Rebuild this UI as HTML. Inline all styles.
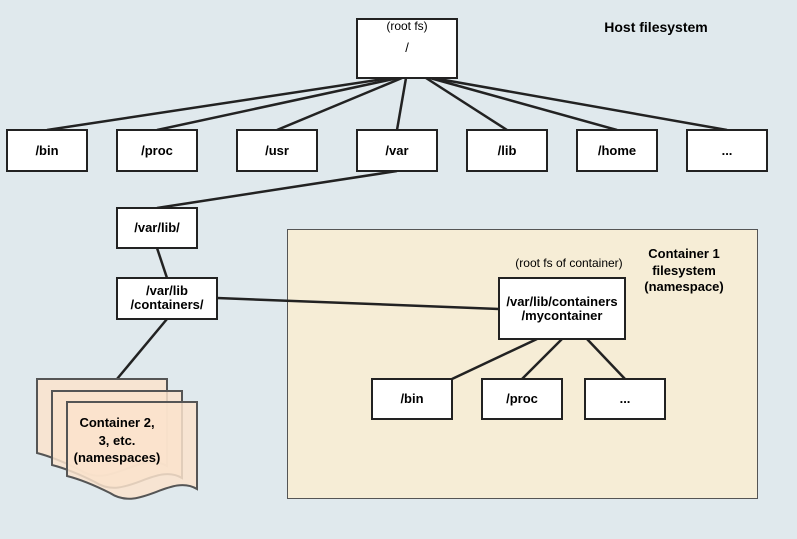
<!DOCTYPE html>
<html><head><style>body{margin:0;background:#e0e9ed}svg{display:block}text{font-family:"Liberation Sans",sans-serif;font-size:13px;font-weight:bold;text-anchor:middle}</style></head><body>
<svg width="797" height="539" viewBox="0 0 797 539">
<rect width="797" height="539" fill="#e0e9ed"/>
<rect x="287.5" y="229.5" width="470" height="269" fill="#f6edd6" stroke="#555"/>
<g stroke="#222" stroke-width="2.5" fill="none">
<line x1="390" y1="78" x2="47" y2="130"/><line x1="398" y1="78" x2="157" y2="130"/><line x1="402" y1="78" x2="277" y2="130"/><line x1="406" y1="78" x2="397" y2="130"/><line x1="426" y1="78" x2="507" y2="130"/><line x1="430" y1="78" x2="617" y2="130"/><line x1="433" y1="78" x2="727" y2="130"/>
<line x1="397" y1="171" x2="157" y2="208"/><line x1="157" y1="248" x2="167" y2="278"/><line x1="217" y1="298" x2="499" y2="309"/><line x1="167" y1="319" x2="117" y2="379"/>
<line x1="537" y1="339" x2="452" y2="379"/><line x1="562" y1="339" x2="522" y2="379"/><line x1="587" y1="339" x2="625" y2="379"/>
</g>
<g stroke="#555" stroke-width="2" fill="#fae3cc" fill-opacity="0.85">
<path d="M37 379H167V466C140 450 110 490 80 470C60 460 45 455 37 453Z"/>
<path d="M52 391H182V478C155 462 125 502 95 482C75 472 60 467 52 465Z"/>
<path d="M67 402H197V489C170 473 140 513 110 493C90 483 75 478 67 476Z"/>
</g>
<g fill="#fff" stroke="#222" stroke-width="2">
<rect x="357" y="19" width="100" height="59"/>
<rect x="7" y="130" width="80" height="41"/><rect x="117" y="130" width="80" height="41"/><rect x="237" y="130" width="80" height="41"/><rect x="357" y="130" width="80" height="41"/><rect x="467" y="130" width="80" height="41"/><rect x="577" y="130" width="80" height="41"/><rect x="687" y="130" width="80" height="41"/>
<rect x="117" y="208" width="80" height="40"/><rect x="117" y="278" width="100" height="41"/>
<rect x="499" y="278" width="126" height="61"/>
<rect x="372" y="379" width="80" height="40"/><rect x="482" y="379" width="80" height="40"/><rect x="585" y="379" width="80" height="40"/>
</g>
<text x="407" y="30" style="font-weight:normal;font-size:12px">(root fs)</text><text x="407" y="52" style="font-weight:normal">/</text>
<text x="656" y="32" style="font-size:14px">Host filesystem</text>
<text x="47" y="155">/bin</text><text x="157" y="155">/proc</text><text x="277" y="155">/usr</text><text x="397" y="155">/var</text><text x="507" y="155">/lib</text><text x="617" y="155">/home</text><text x="727" y="155">...</text>
<text x="157" y="232">/var/lib/</text><text x="167" y="295">/var/lib</text><text x="167" y="309">/containers/</text>
<text x="569" y="267" style="font-weight:normal;font-size:12px">(root fs of container)</text>
<text x="562" y="306">/var/lib/containers</text><text x="562" y="320">/mycontainer</text>
<text x="412" y="403">/bin</text><text x="522" y="403">/proc</text><text x="625" y="403">...</text>
<g style="font-size:15px"><text x="684" y="258">Container 1</text><text x="684" y="275">filesystem</text><text x="684" y="291">(namespace)</text></g>
<g style="font-size:16px"><text x="117" y="427">Container 2,</text><text x="117" y="445">3, etc.</text><text x="117" y="462">(namespaces)</text></g>
</svg></body></html>
